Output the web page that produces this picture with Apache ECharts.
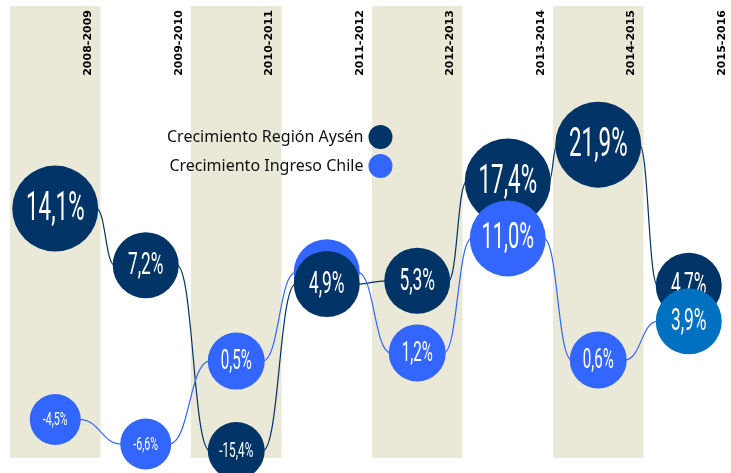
<!DOCTYPE html>
<html>
<head>
<meta charset="utf-8">
<script src="https://cdn.jsdelivr.net/npm/echarts@6/dist/echarts.min.js"></script>
<style>
  html, body { margin: 0; padding: 0; background: #fff; }
  #main { width: 731px; height: 473px; }
</style>
</head>
<body>
<div id="main"></div>
<script>
// datos
var periodos = ['2008-2009', '2009-2010', '2010-2011', '2011-2012', '2012-2013', '2013-2014', '2014-2015', '2015-2016'];
var crecimientoAysen = [14.1, 7.2, -15.4, 4.9, 5.3, 17.4, 21.9, 4.7];
var crecimientoChile = [-4.5, -6.6, 0.5, 8.1, 1.2, 11.0, 0.6, 3.9];

// colores
var AZUL_OSCURO = '#003366';
var AZUL = '#3366FF';
var AZUL_DESTACADO = '#0070C0';
var BANDA = '#EAE8D6';

// tamaño de la burbuja segun el valor
function diametro(v) {
  if (v >= 14) return 86;
  if (v >= 10) return 76;
  if (v >= 3) return 66;
  if (v >= 0 || v < -10) return 57;
  return 51;
}

function etiqueta(v) {
  return v.toFixed(1).replace('.', ',') + '%';
}

function burbujas(color, destacar) {
  return function (params, api) {
    var i = params.dataIndex;
    var v = api.value(1);
    var p = api.coord([api.value(0), v]);
    var d = diametro(v);
    var orden = Math.round(p[1]) * 2;   // la burbuja mas baja queda encima
    return {
      type: 'group',
      children: [
        {
          type: 'circle',
          shape: { cx: p[0], cy: p[1], r: d / 2 },
          style: { fill: i === destacar ? AZUL_DESTACADO : color },
          z2: orden
        },
        {
          type: 'text',
          x: p[0],
          y: p[1] + 1,
          scaleX: 0.56,
          style: {
            text: etiqueta(v),
            fill: '#fff',
            fontSize: Math.round(d * (v < 0 ? 0.37 : 0.47)),
            fontFamily: 'Roboto, "Liberation Sans Narrow", sans-serif',
            fontWeight: 'normal',
            align: 'center',
            verticalAlign: 'middle'
          },
          z2: orden + 1
        }
      ]
    };
  };
}

function conectores(valores, color) {
  return function (params, api) {
    var i = params.dataIndex;
    if (i >= valores.length - 1) return;
    var a = api.coord([i, valores[i]]);
    var b = api.coord([i + 1, valores[i + 1]]);
    var x1 = a[0] + diametro(valores[i]) / 2 - 2;
    var x2 = b[0] - diametro(valores[i + 1]) / 2 + 2;
    var xm = (x1 + x2) / 2;
    return {
      type: 'bezierCurve',
      shape: { x1: x1, y1: a[1], x2: x2, y2: b[1], cpx1: xm, cpy1: a[1], cpx2: xm, cpy2: b[1] },
      style: { stroke: color, lineWidth: 1.2, fill: null }
    };
  };
}

function pares(valores) {
  return valores.map(function (v, i) { return [i, v]; });
}

var chart = echarts.init(document.getElementById('main'));

var option = {
  animation: false,
  grid: { left: 10, width: 724, top: 6, bottom: 15, outerBoundsMode: 'none' },
  legend: {
    data: ['Crecimiento Región Aysén', 'Crecimiento Ingreso Chile'],
    orient: 'vertical',
    left: 162,
    top: 120,
    align: 'right',
    icon: 'circle',
    itemWidth: 24,
    itemHeight: 24,
    itemGap: 5,
    textStyle: { fontFamily: 'Noto Sans', fontSize: 16, color: '#111' }
  },
  xAxis: {
    type: 'category',
    position: 'top',
    data: periodos,
    axisLine: { show: false },
    axisTick: { show: false },
    axisLabel: {
      interval: 0,
      rotate: 90,
      inside: true,
      margin: 4,
      lineHeight: 66,
      verticalAlign: 'top',
      fontFamily: 'DejaVu Sans',
      fontWeight: 'bold',
      fontSize: 11,
      color: '#000'
    },
    splitLine: { show: false },
    splitArea: { show: true, interval: 0, areaStyle: { color: [BANDA, 'rgba(255,255,255,0)'] } }
  },
  yAxis: [
    { type: 'value', show: false, min: -16.3, max: 38.8 },
    { type: 'value', show: false, min: -7.8, max: 30.9 }
  ],
  series: [
    {
      name: 'linea Aysen',
      type: 'custom',
      yAxisIndex: 0,
      z: 1,
      renderItem: conectores(crecimientoAysen, AZUL_OSCURO),
      data: pares(crecimientoAysen)
    },
    {
      name: 'linea Chile',
      type: 'custom',
      yAxisIndex: 1,
      z: 1,
      renderItem: conectores(crecimientoChile, AZUL),
      data: pares(crecimientoChile)
    },
    {
      name: 'Crecimiento Región Aysén',
      type: 'custom',
      yAxisIndex: 0,
      z: 2,
      itemStyle: { color: AZUL_OSCURO },
      renderItem: burbujas(AZUL_OSCURO, -1),
      data: pares(crecimientoAysen)
    },
    {
      name: 'Crecimiento Ingreso Chile',
      type: 'custom',
      yAxisIndex: 1,
      z: 2,
      itemStyle: { color: AZUL },
      renderItem: burbujas(AZUL, 7),
      data: pares(crecimientoChile)
    }
  ]
};

chart.setOption(option);
</script>
</body>
</html>
